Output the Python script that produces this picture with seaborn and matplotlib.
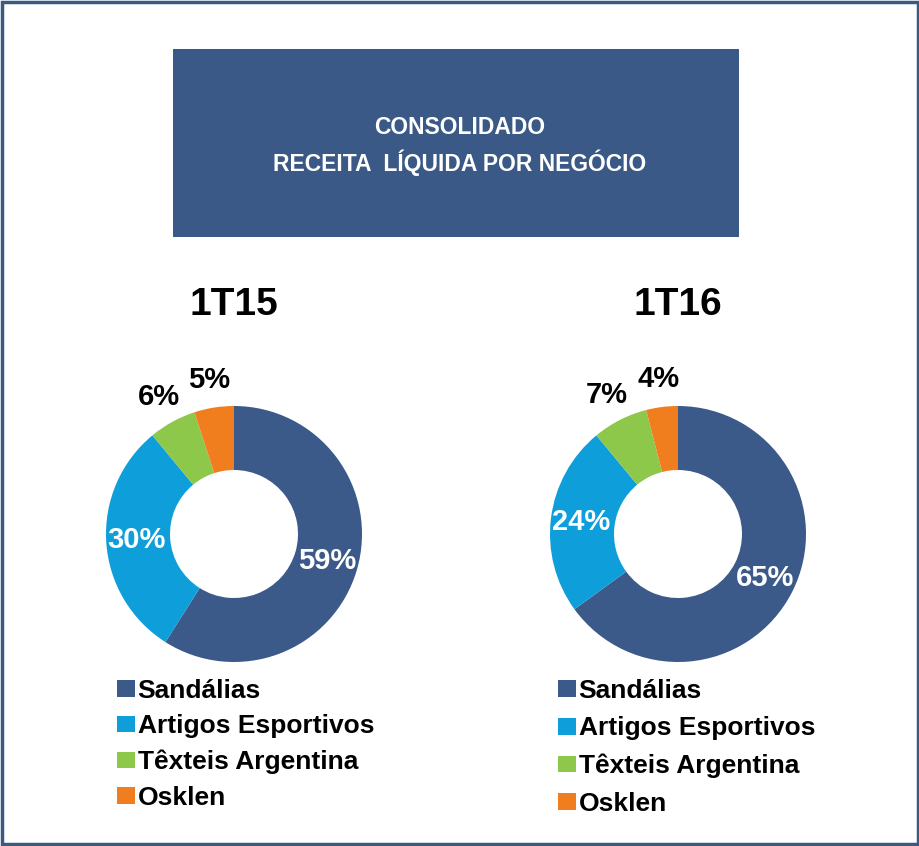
import matplotlib
matplotlib.use("Agg")
import matplotlib.pyplot as plt
import seaborn as sn
import numpy as np
from matplotlib.patches import Rectangle

# dados
negocios = ["Sandálias", "Artigos Esportivos", "Têxteis Argentina", "Osklen"]
receita_1t15 = [59, 30, 6, 5]
receita_1t16 = [65, 24, 7, 4]
periodos = ["1T15", "1T16"]
titulo = ["CONSOLIDADO", "RECEITA  LÍQUIDA POR NEGÓCIO"]

sn.set_theme(style="white")
plt.rcParams['font.family'] = ['Liberation Sans', 'DejaVu Sans']
plt.rcParams['text.color'] = "black"
cores = sn.color_palette(["#3B5A89", "#0E9FDB", "#8DC84B", "#F07D1E"])

fig = plt.figure(figsize=(9.2, 8.46), dpi=100)

# moldura e caixa do titulo
fig.patches.append(Rectangle((0.002, 0.002), 0.996, 0.996, transform=fig.transFigure,
                             fill=False, edgecolor="#3B5A80", lw=2.5))
fig.patches.append(Rectangle((173/920, 1-237/846), 566/920, 188/846, transform=fig.transFigure,
                             facecolor="#3A5986", edgecolor="none"))
fig.text(0.5, 1-127/846, titulo[0], color="white", fontsize=16.5, fontweight="bold", ha="center", va="center")
fig.text(0.5, 1-163/846, titulo[1], color="white", fontsize=16.5, fontweight="bold", ha="center", va="center")

R = 128  # raio em px
L = 1.4
W = 2*L*R

def donut(cx, cy, valores, periodo, leg_x, leg_y, spacing):
    ax = fig.add_axes([(cx - W/2)/920, (846 - cy - W/2)/846, W/920, W/846])
    wedges, _ = ax.pie(valores, colors=cores, startangle=90, counterclock=False,
                       radius=1, wedgeprops=dict(width=0.5, edgecolor="none"))
    for w, v in zip(wedges, valores):
        ang = np.deg2rad((w.theta1 + w.theta2) / 2)
        if v >= 15:
            d, c = 0.76, "white"
        else:
            d, c = 1.22, "black"
        ax.text(d*np.cos(ang), d*np.sin(ang), f"{v}%", color=c, fontsize=21,
                fontweight="bold", ha="center", va="center")
    ax.set_xlim(-L, L)
    ax.set_ylim(-L, L)
    ax.set_aspect("equal")
    ax.axis("off")
    fig.text(cx/920, 1-305/846, periodo, fontsize=28, fontweight="bold", ha="center", va="center")
    fig.legend(wedges, negocios, loc="upper left", bbox_to_anchor=(leg_x/920, 1-leg_y/846),
               frameon=False, prop=dict(weight="bold", size=19), handlelength=0.68,
               handleheight=0.6, handletextpad=0.1, labelspacing=spacing, borderpad=0,
               borderaxespad=0, labelcolor="black")

donut(234, 534, receita_1t15, periodos[0], 117, 679, 0.43)
donut(678, 534, receita_1t16, periodos[1], 558, 679, 0.51)

plt.savefig("out.png", dpi=100)
